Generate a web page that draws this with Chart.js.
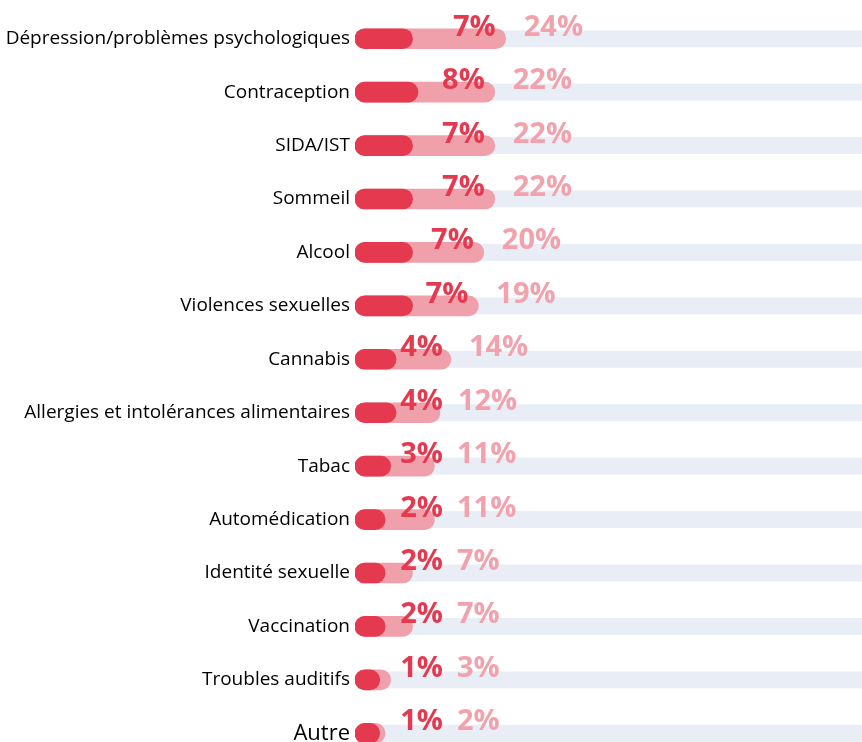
<!DOCTYPE html>
<html>
<head>
<meta charset="utf-8">
<script src="https://cdn.jsdelivr.net/npm/chart.js@4.4.1/dist/chart.umd.min.js"></script>
<style>
  html, body { margin: 0; padding: 0; background: #fff; overflow: hidden; }
  #wrap { position: relative; width: 862px; height: 760px; }
</style>
</head>
<body>
<div id="wrap"><canvas id="topics"></canvas></div>
<script>
const categories = [
    'Dépression/problèmes psychologiques',
    'Contraception',
    'SIDA/IST',
    'Sommeil',
    'Alcool',
    'Violences sexuelles',
    'Cannabis',
    'Allergies et intolérances alimentaires',
    'Tabac',
    'Automédication',
    'Identité sexuelle',
    'Vaccination',
    'Troubles auditifs',
    'Autre'
];
const darkValues  = [7, 8, 7, 7, 7, 7, 4, 4, 3, 2, 2, 2, 1, 1];
const lightValues = [24, 22, 22, 22, 20, 19, 14, 12, 11, 11, 7, 7, 3, 2];

const DARK = '#e5394f';
const LIGHT = '#f0a0aa';
const LIGHT_TXT = '#f2a2ad';
const TRACK = '#e9eef6';
const AXIS_MIN = -3.5;

// light blue track behind every row
const trackPlugin = {
    id: 'track',
    beforeDatasetsDraw(chart) {
        const { ctx, chartArea, scales } = chart;
        ctx.save();
        ctx.fillStyle = TRACK;
        categories.forEach((c, i) => {
            const y = scales.y.getPixelForValue(i);
            ctx.fillRect(chartArea.left + 4, y - 8.5, chart.width - chartArea.left, 17);
        });
        ctx.restore();
    }
};

// the two percentages above each bar
const valueLabels = {
    id: 'valueLabels',
    afterDatasetsDraw(chart) {
        const { ctx } = chart;
        const lightMeta = chart.getDatasetMeta(1);
        ctx.save();
        ctx.font = 'bold 29px "Open Sans", sans-serif';
        ctx.textBaseline = 'alphabetic';
        ctx.textAlign = 'left';
        categories.forEach((c, i) => {
            const bar = lightMeta.data[i];
            const y = bar.y - 3;
            const lightEnd = bar.x;
            const t1 = darkValues[i] + '%';
            const t2 = lightValues[i] + '%';
            const w1 = ctx.measureText(t1).width;
            const right1 = Math.max(lightEnd - 10, 443);
            ctx.fillStyle = DARK;
            ctx.fillText(t1, right1 - w1, y);
            const left2 = Math.max(right1 + 14, lightEnd + 18, 455);
            ctx.fillStyle = LIGHT_TXT;
            ctx.fillText(t2, left2, y);
        });
        ctx.restore();
    }
};

const ctx = document.getElementById('topics').getContext('2d');
new Chart(ctx, {
    type: 'bar',
    data: {
        labels: categories,
        datasets: [
            {
                data: darkValues,
                backgroundColor: DARK,
                base: AXIS_MIN,
                borderRadius: 10,
                borderSkipped: false,
                barThickness: 20,
                grouped: false
            },
            {
                data: lightValues,
                backgroundColor: LIGHT,
                base: AXIS_MIN,
                borderRadius: 10,
                borderSkipped: false,
                barThickness: 20,
                grouped: false
            }
        ]
    },
    options: {
        indexAxis: 'y',
        responsive: true,
        maintainAspectRatio: false,
        animation: false,
        layout: { padding: { top: 12, bottom: 0, left: 0, right: 0 } },
        plugins: {
            legend: { display: false },
            tooltip: { enabled: false }
        },
        scales: {
            x: {
                display: false,
                min: AXIS_MIN,
                max: 89
            },
            y: {
                grid: { display: false, drawTicks: false },
                border: { display: false },
                afterFit(axis) {
                    axis.width = 355;
                    axis.paddingTop = 0;
                    axis.paddingBottom = 0;
                },
                ticks: {
                    padding: 5,
                    color: '#000',
                    font: (c) => c.index === categories.length - 1
                        ? { family: '"Open Sans", sans-serif', size: 22 }
                        : { family: '"Open Sans", sans-serif', size: 19 }
                }
            }
        }
    },
    plugins: [trackPlugin, valueLabels]
});
</script>
</body>
</html>
